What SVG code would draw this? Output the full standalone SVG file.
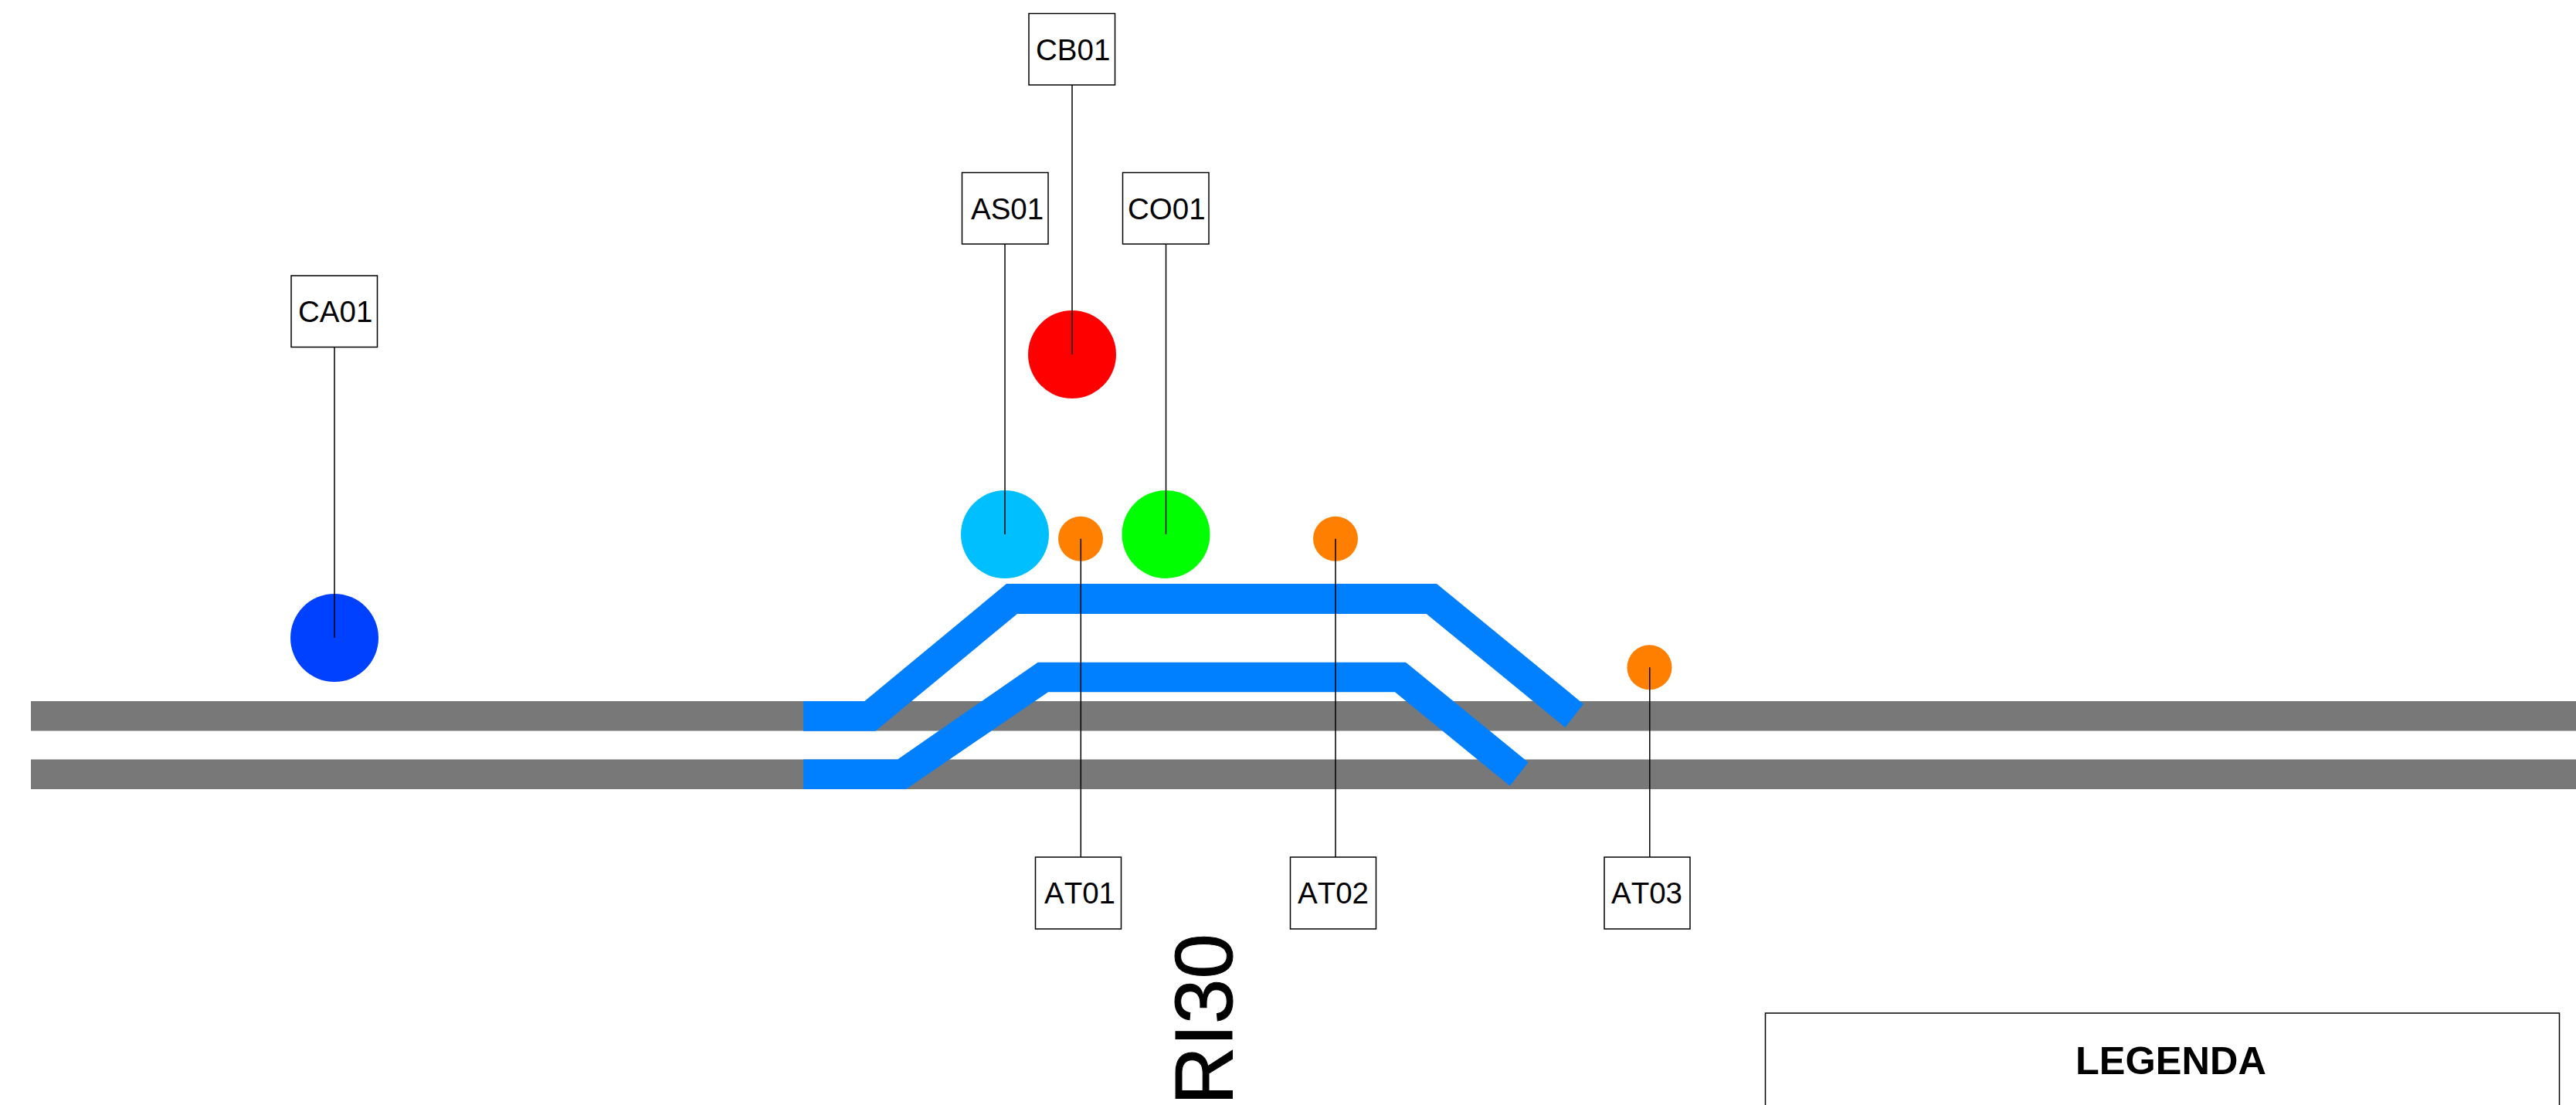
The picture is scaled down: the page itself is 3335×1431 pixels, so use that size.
<svg xmlns="http://www.w3.org/2000/svg" width="3335" height="1431" viewBox="0 0 3335 1431">
<style>
text{font-family:"Liberation Sans",Arial,sans-serif;font-kerning:none;fill:#000}
.track{fill:#787878}
.siding{fill:#0080ff}
.box{fill:#fff;stroke:#000;stroke-width:1.5}
.lbl{font-size:38.5px}
.link{stroke:#000;stroke-width:1.5;fill:none}
.at{fill:#ff8000}
</style>
<rect width="3335" height="1431" fill="#fff"/>
<g id="tracks">
<rect class="track" x="40" y="908" width="3295" height="38.5"/>
<rect class="track" x="40" y="983.5" width="3295" height="38.5"/>
</g>
<g id="sidings">
<polygon class="siding" points="1040,908 1119.3,908 1303,756 1860,756 2050,911.7 2026.3,942 1846.7,795 1317,795 1133.3,946.7 1040,946.7"/>
<polygon class="siding" points="1040,983.5 1162,983.5 1343.7,857.7 1820,857.7 1978.6,987.3 1954.7,1017.7 1806,896.3 1357,896.3 1173,1022 1040,1022"/>
</g>
<g id="CA01-point"><circle cx="433" cy="826" r="57" fill="#0040ff"/></g>
<g id="CB01-point"><circle cx="1388" cy="459" r="57" fill="#ff0000"/></g>
<g id="AS01-point"><circle cx="1301" cy="692" r="57" fill="#00bfff"/></g>
<g id="CO01-point"><circle cx="1509.5" cy="692" r="57" fill="#00ff00"/></g>
<g id="AT01-point"><circle class="at" cx="1399" cy="697.7" r="29"/></g>
<g id="AT02-point"><circle class="at" cx="1729" cy="697.7" r="29"/></g>
<g id="AT03-point"><circle class="at" cx="2135.5" cy="864.3" r="29"/></g>
<g id="connectors">
<line class="link" x1="433" y1="449.5" x2="433" y2="826"/>
<line class="link" x1="1388" y1="110" x2="1388" y2="459"/>
<line class="link" x1="1301" y1="316" x2="1301" y2="692"/>
<line class="link" x1="1509.5" y1="316" x2="1509.5" y2="692"/>
<line class="link" x1="1399.3" y1="697.7" x2="1399.3" y2="1110"/>
<line class="link" x1="1729" y1="697.7" x2="1729" y2="1110"/>
<line class="link" x1="2135.8" y1="864.3" x2="2135.8" y2="1110"/>
</g>
<g id="CA01"><rect class="box" x="377" y="357" width="111.5" height="92.5"/><text class="lbl" x="386" y="417">CA01</text></g>
<g id="CB01"><rect class="box" x="1332" y="17.5" width="111.5" height="92.5"/><text class="lbl" x="1341" y="78">CB01</text></g>
<g id="AS01"><rect class="box" x="1245.5" y="223.5" width="111.5" height="92.5"/><text class="lbl" x="1257" y="284">AS01</text></g>
<g id="CO01"><rect class="box" x="1453.5" y="223.5" width="111.5" height="92.5"/><text class="lbl" x="1460" y="284">CO01</text></g>
<g id="AT01"><rect class="box" x="1340.5" y="1110" width="111" height="93"/><text class="lbl" x="1352" y="1170">AT01</text></g>
<g id="AT02"><rect class="box" x="1670.5" y="1110" width="111" height="93"/><text class="lbl" x="1680" y="1170">AT02</text></g>
<g id="AT03"><rect class="box" x="2077" y="1110" width="111" height="93"/><text class="lbl" x="2086" y="1170">AT03</text></g>
<text id="line-name" transform="translate(1595 1431) rotate(-90)" font-size="105" stroke="#000" stroke-width="1">RI30</text>
<g id="legend">
<rect x="2285.5" y="1312" width="1028" height="140" fill="none" stroke="#000" stroke-width="1.5"/>
<text x="2687" y="1391" font-size="50.5" font-weight="700">LEGENDA</text>
</g>
</svg>
